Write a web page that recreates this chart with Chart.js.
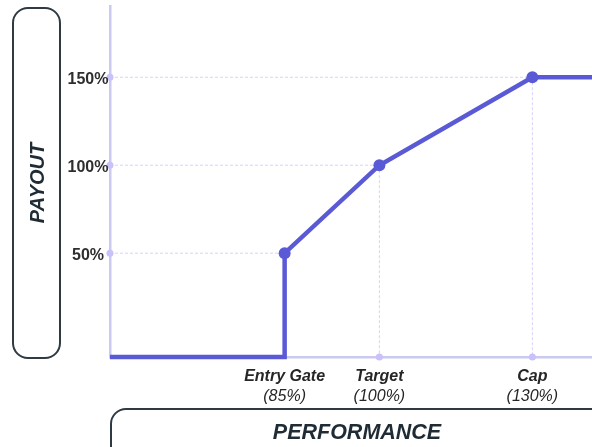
<!DOCTYPE html>
<html>
<head>
<meta charset="utf-8">
<script src="https://cdn.jsdelivr.net/npm/chart.js@4.4.1/dist/chart.umd.min.js"></script>
<style>
  html, body { margin: 0; padding: 0; background: #fff; }
  #wrap { position: relative; width: 592px; height: 447px; overflow: hidden; }
  #chart { position: absolute; left: 0; top: 0; }
  .box { position: absolute; border: 2px solid #2f3b44; box-sizing: border-box; font-family: "Liberation Sans", Arial, sans-serif; font-weight: bold; font-style: italic; color: #1f2c35; }
  #yBox { left: 12px; top: 7px; width: 49px; height: 352px; border-radius: 16px; }
  #yBox span { position: absolute; left: 50%; top: 50%; transform: translate(-50%, -50%) rotate(-90deg); font-size: 20px; white-space: nowrap; }
  #xBox { left: 110px; top: 408px; width: 500px; height: 60px; border-radius: 16px; }
  #xBox span { position: absolute; left: 245px; top: 22px; transform: translate(-50%, -50%); font-size: 21.5px; white-space: nowrap; }
</style>
</head>
<body>
<div id="wrap">
  <canvas id="chart" width="592" height="447"></canvas>
  <div class="box" id="yBox"><span>PAYOUT</span></div>
  <div class="box" id="xBox"><span>PERFORMANCE</span></div>
</div>
<script>
// payout curve (performance %, payout %) - floor segment sits on the axis bottom
const perfValues = [63, 85, 85, 100, 130, 144];
const payoutValues = [-9, -9, 50, 100, 150, 150];
const markerSizes = [0, 0, 6, 6, 6, 0];

// milestones on the curve
const milestoneNames = ['Entry Gate', 'Target', 'Cap'];
const milestoneLabels = ['(85%)', '(100%)', '(130%)'];
const milestonePerf = [85, 100, 130];
const milestonePayout = [50, 100, 150];

// payout tick labels
const payoutTicks = [50, 100, 150];

const lineColor = '#5a5ad6';
const axisColor = '#cacaf0';
const guideColor = '#d8d0ff';
const font = '"Liberation Sans", Arial, sans-serif';

const guidePlugin = {
    id: 'guides',
    beforeDatasetsDraw(chart) {
        const { ctx, scales: { x, y } } = chart;
        ctx.save();
        ctx.strokeStyle = guideColor;
        ctx.lineWidth = 1;
        ctx.setLineDash([3, 2]);
        milestonePerf.forEach((p, i) => {
            const px = x.getPixelForValue(p);
            const py = y.getPixelForValue(milestonePayout[i]);
            ctx.beginPath();
            ctx.moveTo(x.left, py);
            ctx.lineTo(i === milestonePerf.length - 1 ? x.right : px, py);
            ctx.stroke();
            if (i > 0) {
                ctx.beginPath();
                ctx.moveTo(px, py);
                ctx.lineTo(px, y.bottom);
                ctx.stroke();
            }
        });
        ctx.setLineDash([]);
        ctx.fillStyle = '#c9c0fc';
        payoutTicks.forEach(v => {
            ctx.beginPath();
            ctx.arc(x.left, y.getPixelForValue(v), 3.5, 0, Math.PI * 2);
            ctx.fill();
        });
        milestonePerf.slice(1).forEach(p => {
            ctx.beginPath();
            ctx.arc(x.getPixelForValue(p), y.bottom, 3.5, 0, Math.PI * 2);
            ctx.fill();
        });
        ctx.restore();
    },
    afterDraw(chart) {
        const { ctx, scales: { x, y } } = chart;
        ctx.save();
        ctx.fillStyle = '#2e2e2e';
        ctx.textAlign = 'center';
        ctx.textBaseline = 'middle';
        ctx.font = 'bold 16px ' + font;
        payoutTicks.forEach(v => {
            ctx.fillText(v + '%', 88, y.getPixelForValue(v) + 2);
        });
        ctx.fillStyle = '#262626';
        milestonePerf.forEach((p, i) => {
            const px = x.getPixelForValue(p);
            ctx.font = 'italic bold 16px ' + font;
            ctx.fillText(milestoneNames[i], px, y.bottom + 20);
            ctx.font = 'italic 16px ' + font;
            ctx.fillText(milestoneLabels[i], px, y.bottom + 40);
        });
        ctx.restore();
    }
};

new Chart(document.getElementById('chart'), {
    type: 'line',
    data: {
        datasets: [{
            data: perfValues.map((p, i) => ({ x: p, y: payoutValues[i] })),
            borderColor: lineColor,
            backgroundColor: lineColor,
            borderWidth: 4.5,
            pointRadius: markerSizes,
            pointHoverRadius: markerSizes,
            pointBorderWidth: 0,
            tension: 0,
            clip: 6
        }]
    },
    options: {
        responsive: false,
        animation: false,
        layout: { padding: { left: 102, top: 6, right: 0, bottom: 82 } },
        plugins: { legend: { display: false }, tooltip: { enabled: false } },
        scales: {
            x: {
                type: 'logarithmic',
                min: 63,
                max: 144,
                bounds: 'data',
                ticks: { display: false },
                grid: { display: false },
                border: { display: true, color: axisColor, width: 2.5 }
            },
            y: {
                type: 'linear',
                min: -9,
                max: 190.5,
                bounds: 'data',
                ticks: { display: false },
                grid: { display: false },
                border: { display: true, color: axisColor, width: 2.5 }
            }
        }
    },
    plugins: [guidePlugin]
});
</script>
</body>
</html>
